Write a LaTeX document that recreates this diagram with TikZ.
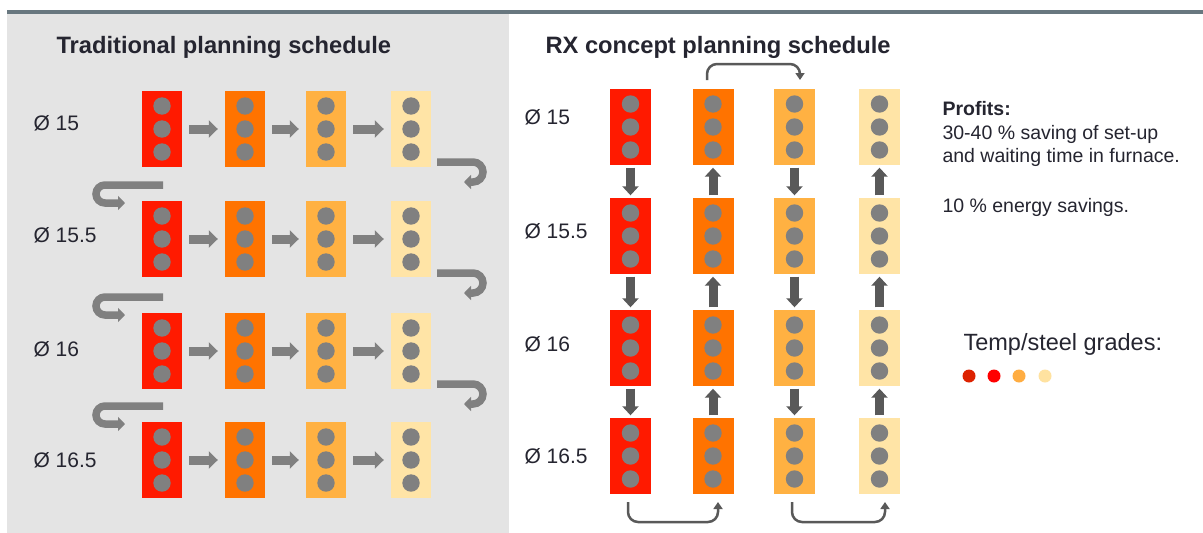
\documentclass[tikz,border=0pt]{standalone}
\usepackage{fontspec}
\setmainfont{Liberation Sans}
\usetikzlibrary{arrows.meta}
\definecolor{c1}{HTML}{FF1A00}
\definecolor{c2}{HTML}{FF7300}
\definecolor{c3}{HTML}{FFB142}
\definecolor{c4}{HTML}{FFE4A6}
\definecolor{dotgray}{HTML}{808080}
\definecolor{arrgray}{HTML}{595959}
\definecolor{panel}{HTML}{E4E4E4}
\definecolor{topline}{HTML}{68777F}
\definecolor{txt}{HTML}{252530}
\definecolor{lg1}{HTML}{DD2200}
\definecolor{lg2}{HTML}{FF0000}
\definecolor{lg3}{HTML}{FFAD42}
\definecolor{lg4}{HTML}{FFE2A0}
\tikzset{
  box/.style={rectangle, inner sep=0pt, minimum width=40pt, minimum height=76pt, fill=#1,
    path picture={\foreach \dy in {-23,0,23}
      \fill[dotgray] ([yshift=\dy pt]path picture bounding box.center) circle (8.7pt);}},
  titletext/.style={anchor=base west, text=txt, font=\fontsize{23.7pt}{28pt}\selectfont\bfseries},
  dialabel/.style={anchor=west, text=txt, font=\fontsize{21pt}{25pt}\selectfont},
  bodytext/.style={anchor=base west, text=txt, font=\fontsize{19.5pt}{23pt}\selectfont},
  harrow/.style={draw=dotgray, line width=9pt, -{Triangle[width=17pt,length=9pt]}, shorten <=7pt, shorten >=7pt},
  varrow/.style={draw=arrgray, line width=9pt, -{Triangle[width=16pt,length=9pt]}, shorten <=2.5pt, shorten >=2.5pt},
  uarrow/.style={draw=dotgray, line width=7.5pt, -{Triangle[width=14pt,length=7pt]}},
  bracket/.style={draw=arrgray, line width=2.5pt, rounded corners=10pt, -{Triangle[width=9pt,length=7pt]}},
  legdot/.style={circle, inner sep=0pt, minimum size=13pt, fill=#1}
}
\begin{document}
\begin{tikzpicture}[x=1pt, y=-1pt]
\useasboundingbox (0,0) rectangle (1203,533);
\fill[white] (0,0) rectangle (1203,533);
% panel and top rule
\fill[panel] (7,14) rectangle (509,533);
\fill[topline] (7,10) rectangle (1203,14);

% titles
\node[titletext] (tl) at (53,53) {Traditional planning schedule};
\node[titletext] (tr) at (542,53) {RX concept planning schedule};

% left boxes
\foreach \r/\y in {1/129,2/239,3/351,4/460}{
  \foreach \c/\x/\col in {1/162/c1,2/245/c2,3/326/c3,4/411/c4}{
    \node[box=\col] (L\r\c) at (\x,\y) {};
  }
  \draw[harrow] (L\r1) -- (L\r2);
  \draw[harrow] (L\r2) -- (L\r3);
  \draw[harrow] (L\r3) -- (L\r4);
}
% left labels
\node[dialabel] (ll1) at (30,123) {Ø 15};
\node[dialabel] (ll2) at (30,235) {Ø 15.5};
\node[dialabel] (ll3) at (30,349) {Ø 16};
\node[dialabel] (ll4) at (30,460) {Ø 16.5};

% U-turn arrows, right side
\foreach \b in {162,273,384}{
  \coordinate (ru\b) at (437,\b);
  \draw[uarrow] (ru\b) -- ++(36,0) arc[start angle=90, end angle=-90, radius=10pt] -- ++(-9,0);
}
% U-turn arrows, left side
\foreach \b in {185,297,406}{
  \coordinate (lu\b) at (163,\b);
  \draw[uarrow] (lu\b) -- ++(-58,0) arc[start angle=90, end angle=270, radius=9pt] -- ++(20,0);
}

% right boxes
\foreach \r/\y in {1/127,2/236,3/348,4/456}{
  \foreach \c/\x/\col in {1/630.5/c1,2/713/c2,3/794.5/c3,4/879.5/c4}{
    \node[box=\col, minimum width=41pt] (R\r\c) at (\x,\y) {};
  }
}
\foreach \r/\s in {1/2,2/3,3/4}{
  \draw[varrow] (R\r1) -- (R\s1);
  \draw[varrow] (R\s2) -- (R\r2);
  \draw[varrow] (R\r3) -- (R\s3);
  \draw[varrow] (R\s4) -- (R\r4);
}
% right labels
\node[dialabel] (rl1) at (521,117) {Ø 15};
\node[dialabel] (rl2) at (521,231) {Ø 15.5};
\node[dialabel] (rl3) at (521,344) {Ø 16};
\node[dialabel] (rl4) at (521,456) {Ø 16.5};

% brackets
\coordinate (tb1) at (707,80);
\coordinate (tb2) at (800,80);
\draw[bracket] (tb1) -- ++(0,-16) -| (tb2);
\coordinate (bb1) at (628,502);
\coordinate (bb2) at (718,502);
\draw[bracket] (bb1) -- ++(0,20) -| (bb2);
\coordinate (bb3) at (792,502);
\coordinate (bb4) at (885,502);
\draw[bracket] (bb3) -- ++(0,20) -| (bb4);

% profits
\node[bodytext, font=\fontsize{19.5pt}{23pt}\selectfont\bfseries] (pf) at (939,115) {Profits:};
\node[bodytext] (p1) at (939,139) {30-40 \% saving of set-up};
\node[bodytext] (p2) at (939,162) {and waiting time in furnace.};
\node[bodytext] (p3) at (939,212) {10 \% energy savings.};

% legend
\node[anchor=base west, text=txt, font=\fontsize{23.5pt}{28pt}\selectfont] (lt) at (960,350) {Temp/steel grades:};
\node[legdot=lg1] (d1) at (969,376) {};
\node[legdot=lg2] (d2) at (994,376) {};
\node[legdot=lg3] (d3) at (1019,376) {};
\node[legdot=lg4] (d4) at (1045,376) {};
\end{tikzpicture}
\end{document}
